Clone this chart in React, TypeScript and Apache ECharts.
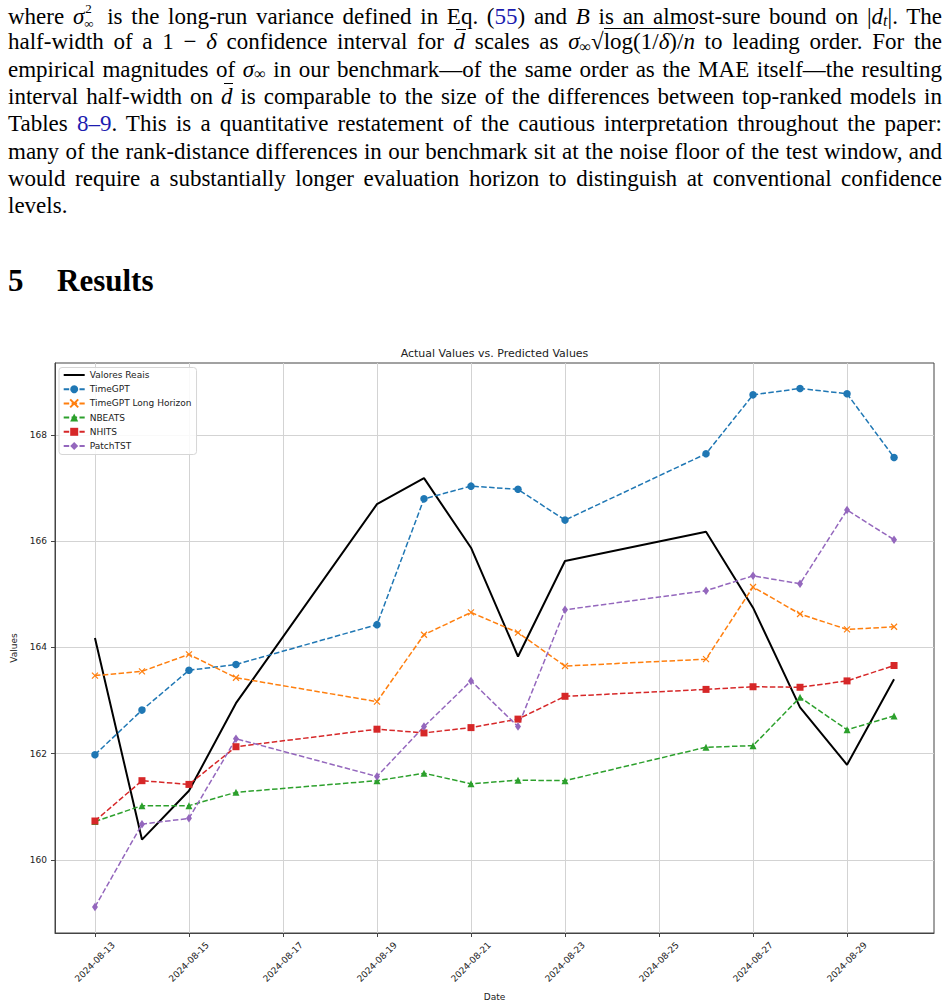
import React, { useEffect, useRef } from "react";
import * as echarts from "echarts";

// ---------- data ----------
const dates = [
  "2024-08-13", "2024-08-14", "2024-08-15", "2024-08-16", "2024-08-19", "2024-08-20", "2024-08-21",
  "2024-08-22", "2024-08-23", "2024-08-26", "2024-08-27", "2024-08-28", "2024-08-29", "2024-08-30",
];
const xTickLabels = ["2024-08-13", "2024-08-15", "2024-08-17", "2024-08-19", "2024-08-21", "2024-08-23", "2024-08-25", "2024-08-27", "2024-08-29"];
const yTickValues = [160, 162, 164, 166, 168];

const valoresReais = [164.18, 160.38, 161.3, 162.95, 166.7, 167.19, 165.88, 163.83, 165.63, 166.18, 164.75, 162.87, 161.79, 163.4];
const timeGPT = [161.98, 162.82, 163.57, 163.68, 164.43, 166.8, 167.04, 166.98, 166.4, 167.65, 168.76, 168.88, 168.78, 167.58];
const timeGPTLong = [163.47, 163.55, 163.87, 163.43, 162.98, 164.24, 164.66, 164.28, 163.65, 163.78, 165.14, 164.63, 164.34, 164.39];
const nbeats = [160.72, 161.02, 161.02, 161.27, 161.49, 161.63, 161.43, 161.5, 161.49, 162.12, 162.15, 163.06, 162.45, 162.71];
const nhits = [160.73, 161.49, 161.42, 162.13, 162.46, 162.39, 162.49, 162.65, 163.08, 163.21, 163.26, 163.25, 163.37, 163.66];
const patchTST = [159.11, 160.67, 160.78, 162.28, 161.57, 162.51, 163.37, 162.51, 164.71, 165.07, 165.35, 165.2, 166.59, 166.03];

const seriesNames = ["Valores Reais", "TimeGPT", "TimeGPT Long Horizon", "NBEATS", "NHITS", "PatchTST"];

// ---------- helpers ----------
const DAY = 86400000;
const BASE = Date.UTC(2024, 6, 31);
const toDay = (s: string) => (Date.parse(s) - BASE) / DAY;
const fromDay = (v: number) => new Date(BASE + Math.round(v) * DAY).toISOString().slice(0, 10);

const FONT = "DejaVu Sans";
const TXT = "#222";
const SPINE = "#444";

const dashed = (name: string, values: number[], color: string, symbol: string, size: any, extra: any = {}) => ({
  type: "line",
  name,
  data: dates.map((d, i) => [toDay(d), values[i]]),
  symbol,
  symbolSize: size,
  showSymbol: true,
  lineStyle: { color, width: 1.5, type: [5.5, 2.4] },
  itemStyle: { color, ...(extra.itemStyle || {}) },
  emphasis: { disabled: true },
});

function Chart() {
  const ref = useRef<HTMLDivElement>(null);
  useEffect(() => {
    if (!ref.current) return;
    const chart = echarts.init(ref.current, null, { renderer: "svg" });
    const xTicks = xTickLabels.map(toDay);
    chart.setOption({
      animation: false,
      title: {
        text: "Actual Values vs. Predicted Values",
        left: 494.5,
        top: 347.5,
        padding: 0,
        textAlign: "center",
        textStyle: { fontFamily: FONT, fontSize: 11, fontWeight: "normal", color: TXT },
      },
      legend: {
        orient: "vertical",
        left: 59,
        top: 367.5,
        itemWidth: 21,
        itemHeight: 10,
        itemGap: 4.2,
        padding: [2.5, 5, 3.5, 3.7],
        backgroundColor: "rgba(255,255,255,0.85)",
        borderColor: "#d6d6d6",
        borderWidth: 1,
        borderRadius: 3,
        textStyle: { fontFamily: FONT, fontSize: 9, color: TXT, lineHeight: 10 },
        data: [
          { name: seriesNames[0], icon: "path://M0,0L21,0L21,2L0,2Z", itemStyle: { color: "#000" } },
          ...seriesNames.slice(1),
        ],
        selectedMode: false,
      },
      grid: {
        left: 55,
        right: 16,
        top: 363,
        bottom: 69,
        show: true,
        borderColor: SPINE,
        borderWidth: 1,
        containLabel: false,
        outerBoundsMode: "none",
      },
      xAxis: {
        type: "value",
        min: 12.15,
        max: 30.85,
        name: "Date",
        nameLocation: "middle",
        nameGap: 59,
        nameTextStyle: { fontFamily: FONT, fontSize: 9, color: TXT },
        axisLine: { show: true, onZero: false, lineStyle: { color: SPINE, width: 1 } },
        axisTick: { show: true, customValues: xTicks, length: 4, lineStyle: { color: SPINE, width: 1 } },
        axisLabel: {
          customValues: xTicks,
          formatter: (v: number) => fromDay(v),
          rotate: 45,
          align: "center",
          verticalAlign: "middle",
          margin: 29,
          fontFamily: FONT,
          fontSize: 9,
          color: TXT,
        },
        splitLine: { show: true, lineStyle: { color: "#d3d3d3", width: 1 } },
      },
      yAxis: {
        type: "value",
        min: 158.62,
        max: 169.36,
        name: "Values",
        nameLocation: "middle",
        nameGap: 35,
        nameRotate: 90,
        nameTextStyle: { fontFamily: FONT, fontSize: 9, color: TXT },
        axisLine: { show: true, onZero: false, lineStyle: { color: SPINE, width: 1 } },
        axisTick: { show: true, customValues: yTickValues, length: 4, lineStyle: { color: SPINE, width: 1 } },
        axisLabel: { customValues: yTickValues, margin: 8, fontFamily: FONT, fontSize: 9, color: TXT },
        splitLine: { show: true, lineStyle: { color: "#d3d3d3", width: 1 } },
      },
      series: [
        {
          type: "line",
          name: seriesNames[0],
          data: dates.map((d, i) => [toDay(d), valoresReais[i]]),
          symbol: "none",
          lineStyle: { color: "#000", width: 2 },
          itemStyle: { color: "#000" },
          emphasis: { disabled: true },
        },
        dashed(seriesNames[1], timeGPT, "#1f77b4", "circle", 7.5),
        dashed(seriesNames[2], timeGPTLong, "#ff7f0e", "path://M0,0L10,10M10,0L0,10", 6, {
          itemStyle: { borderColor: "#ff7f0e", borderWidth: 1.2 },
        }),
        dashed(seriesNames[3], nbeats, "#2ca02c", "triangle", 7),
        dashed(seriesNames[4], nhits, "#d62728", "rect", 7),
        dashed(seriesNames[5], patchTST, "#9467bd", "diamond", [6, 8.5]),
      ],
    });
    return () => chart.dispose();
  }, []);
  return <div ref={ref} style={{ position: "absolute", left: 0, top: 0, width: 950, height: 1002 }} />;
}

// ---------- text of the page ----------
const Blue = ({ children }: any) => <span style={{ color: "#1c1cb0" }}>{children}</span>;
const I = ({ children }: any) => <span style={{ fontStyle: "italic" }}>{children}</span>;
const Bar = ({ children }: any) => (
  <span style={{ fontStyle: "italic", position: "relative", display: "inline-block" }}>
    {children}
    <span style={{ position: "absolute", left: "0.12em", right: "-0.02em", top: "0.02em", borderTop: "1px solid #000" }} />
  </span>
);
const Sub = ({ children }: any) => (
  <span style={{ fontSize: "0.7em", position: "relative", top: "0.15em", lineHeight: 0 }}>{children}</span>
);
const SupSub = ({ sup, sub }: any) => (
  <span style={{ display: "inline-block", position: "relative", width: "0.62em", height: "1em", lineHeight: 0 }}>
    <span style={{ position: "absolute", left: "1px", top: "1px", fontSize: "13px", lineHeight: "14.4px" }}>{sup}</span>
    <span style={{ position: "absolute", left: 0, top: "15.6px", fontSize: "13px", lineHeight: "14.4px" }}>{sub}</span>
  </span>
);

const PARA_TOP = 1;
const PITCH = 27.3;
const lineStyle = (i: number, last = false): React.CSSProperties => ({
  position: "absolute",
  left: 8,
  width: 934,
  top: PARA_TOP + i * PITCH,
  fontFamily: "'Liberation Serif', serif",
  fontSize: 23,
  lineHeight: PITCH + "px",
  textAlign: last ? "left" : "justify",
  textAlignLast: last ? "left" : "justify",
  color: "#000",
  whiteSpace: "nowrap",
});

const paragraphLines: any[] = [
  <>
    where <I>σ</I>
    <SupSub sup="2" sub="∞" /> is the long-run variance defined in Eq. (<Blue>55</Blue>) and <I>B</I> is an almost-sure bound on |<I>d</I>
    <Sub>
      <I>t</I>
    </Sub>
    |. The
  </>,
  <>
    half-width of a 1 − <I>δ</I> confidence interval for <Bar>d</Bar> scales as <I>σ</I>
    <Sub>∞</Sub>
    <span>√</span>
    <span style={{ borderTop: "1px solid #000" }}>
      log(1/<I>δ</I>)/<I>n</I>
    </span>{" "}
    to leading order. For the
  </>,
  <>
    empirical magnitudes of <I>σ</I>
    <Sub>∞</Sub> in our benchmark—of the same order as the MAE itself—the resulting
  </>,
  <>
    interval half-width on <Bar>d</Bar> is comparable to the size of the differences between top-ranked models in
  </>,
  <>
    Tables <Blue>8–9</Blue>. This is a quantitative restatement of the cautious interpretation throughout the paper:
  </>,
  <>many of the rank-distance differences in our benchmark sit at the noise floor of the test window, and</>,
  <>would require a substantially longer evaluation horizon to distinguish at conventional confidence</>,
  <>levels.</>,
];

export default function App() {
  return (
    <div style={{ position: "absolute", left: 0, top: 0, width: 950, height: 1002, background: "#fff", overflow: "hidden" }}>
      <Chart />
      {paragraphLines.map((content, i) => (
        <div key={i} style={lineStyle(i, i === paragraphLines.length - 1)}>
          {content}
        </div>
      ))}
      <div
        style={{
          position: "absolute",
          left: 8,
          top: 265,
          fontFamily: "'Liberation Serif', serif",
          fontWeight: "bold",
          fontSize: 31,
          lineHeight: "31px",
          color: "#000",
          whiteSpace: "nowrap",
        }}
      >
        <span>5</span>
        <span style={{ position: "absolute", left: 49 }}>Results</span>
      </div>
    </div>
  );
}
